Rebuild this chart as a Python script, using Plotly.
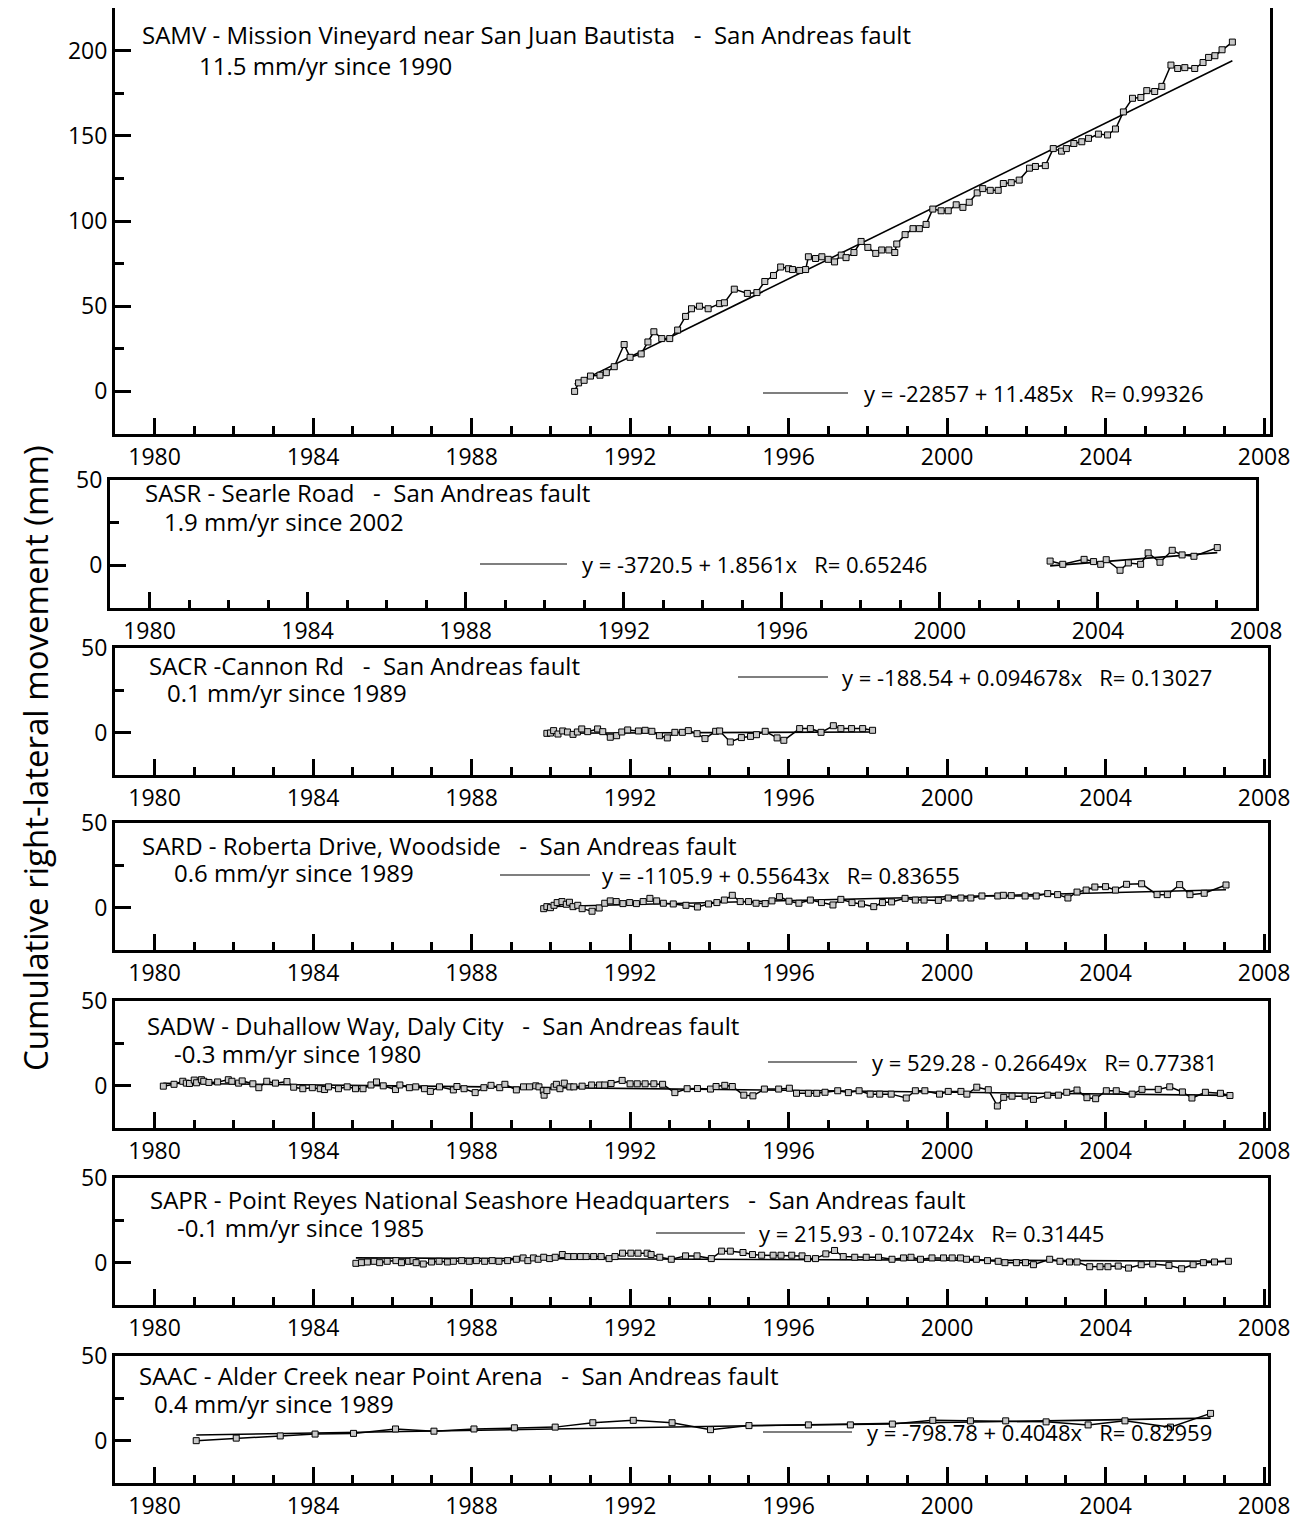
import numpy as np
import plotly.graph_objects as go

W, H = 1306, 1520
PAGE_OFFSET = 8  # the browser draws the figure 8 px in from the page corner

# ---------------- data ----------------
samv_year = [1990.6, 1990.7, 1990.84, 1991.0, 1991.24, 1991.4, 1991.6, 1991.85, 1992.0, 1992.28,
             1992.45, 1992.6, 1992.8, 1993.0, 1993.2, 1993.4, 1993.55, 1993.75, 1993.97, 1994.26,
             1994.38, 1994.63, 1994.96, 1995.2, 1995.4, 1995.62, 1995.8, 1996.0, 1996.1, 1996.28,
             1996.43, 1996.5, 1996.68, 1996.84, 1997.0, 1997.16, 1997.33, 1997.45, 1997.65, 1997.83,
             1998.0, 1998.2, 1998.35, 1998.53, 1998.68, 1998.73, 1998.94, 1999.14, 1999.3, 1999.47,
             1999.64, 1999.85, 2000.03, 2000.23, 2000.4, 2000.56, 2000.76, 2000.9, 2001.09, 2001.29,
             2001.42, 2001.62, 2001.82, 2002.08, 2002.23, 2002.48, 2002.68, 2002.89, 2003.01, 2003.2,
             2003.4, 2003.57, 2003.82, 2004.05, 2004.25, 2004.45, 2004.68, 2004.89, 2005.04, 2005.24,
             2005.42, 2005.65, 2005.82, 2006.0, 2006.25, 2006.46, 2006.6, 2006.76, 2006.94, 2007.2]
samv_mm = [0, 5, 6.5, 9, 9.5, 11, 14.5, 27.5, 20, 22,
           29, 35, 31, 31, 36, 44, 48.5, 50, 48.5, 51.5,
           52, 60, 57.5, 58, 64.5, 68, 73, 72, 71.5, 71,
           71.5, 79, 78, 79, 77.5, 76, 80, 78.5, 81.5, 88,
           84.5, 81, 83, 83, 81.5, 86.5, 92, 95.5, 95.5, 98,
           107, 106, 106, 109.5, 108, 111, 116.5, 119, 118, 118,
           122, 122.5, 124, 131, 132, 132.5, 142.5, 141, 142.5, 145.5,
           146.5, 148.5, 151, 150.5, 154, 164, 172, 172.5, 176.5, 176,
           179, 191.5, 189.5, 190, 189.5, 193, 196, 197, 200.5, 205]

sasr_year = [2002.79, 2003.11, 2003.65, 2003.89, 2004.07, 2004.21, 2004.56, 2004.77, 2005.08,
             2005.27, 2005.57, 2005.88, 2006.13, 2006.43, 2007.02]
sasr_mm = [2.5, 0.6, 3.5, 2.2, 0.6, 3.3, -2.9, 1.4, 0.6, 7.3, 1.8, 8.8, 6.1, 5.3, 10.4]

sacr_year = [1989.9, 1989.99, 1990.07, 1990.18, 1990.3, 1990.42, 1990.56, 1990.67, 1990.78, 1990.93,
             1991.18, 1991.31, 1991.5, 1991.66, 1991.79, 1991.94, 1992.21, 1992.38, 1992.55, 1992.74,
             1992.94, 1993.13, 1993.32, 1993.47, 1993.69, 1993.89, 1994.16, 1994.26, 1994.53, 1994.81,
             1995.04, 1995.19, 1995.41, 1995.71, 1995.88, 1996.28, 1996.55, 1996.82, 1997.13, 1997.32,
             1997.59, 1997.87, 1998.12]
sacr_mm = [-0.4, -0.2, 1.2, -0.8, 1, 0.4, -1, 0.4, 2.2, 0.6,
           2.2, 0.6, -2.7, -1.8, 0.4, 1.6, 1, 1.4, 0.8, -1.8,
           -3.1, 0.2, 0.2, 1.2, -0.6, -3.5, 0.8, 1, -5.5, -2.9,
           -2.2, -1.2, 0.8, -3.1, -4.5, 2.4, 2.4, 0.2, 4.1, 2.4,
           2.4, 2.4, 1.4]

sard_year = [1989.82, 1989.90, 1989.99, 1990.08, 1990.16, 1990.28, 1990.39, 1990.47, 1990.56, 1990.68,
             1990.79, 1991.04, 1991.22, 1991.36, 1991.50, 1991.65, 1991.82, 1991.99, 1992.16, 1992.33,
             1992.50, 1992.67, 1992.84, 1993.09, 1993.41, 1993.70, 1993.98, 1994.19, 1994.38, 1994.58,
             1994.78, 1994.99, 1995.18, 1995.41, 1995.58, 1995.77, 1996.01, 1996.26, 1996.55, 1996.83,
             1997.12, 1997.32, 1997.60, 1997.84, 1998.15, 1998.37, 1998.60, 1998.94, 1999.20, 1999.42,
             1999.78, 2000.03, 2000.35, 2000.60, 2000.88, 2001.28, 2001.42, 2001.62, 2001.97, 2002.25,
             2002.54, 2002.79, 2003.05, 2003.28, 2003.51, 2003.73, 2004.00, 2004.25, 2004.53, 2004.91,
             2005.30, 2005.56, 2005.87, 2006.13, 2006.49, 2007.04]
sard_mm = [-0.6, 0.6, 0.0, 1.4, 3.0, 3.6, 2.0, 3.2, 0.6, 1.4,
           -0.6, -2.1, -0.2, 2.6, 4.0, 3.6, 2.4, 3.0, 2.4, 3.6,
           5.5, 4.0, 2.6, 2.2, 1.4, 0.4, 2.2, 3.0, 4.5, 7.3,
           3.6, 3.6, 2.6, 2.4, 4.0, 6.5, 3.8, 2.6, 4.5, 3.0,
           1.6, 4.9, 3.0, 2.2, 0.6, 3.0, 3.4, 5.5, 4.5, 4.5,
           4.3, 5.7, 5.7, 5.7, 6.9, 6.9, 7.3, 7.1, 6.9, 6.9,
           8.3, 7.7, 5.7, 9.2, 10.4, 12.2, 12.4, 10.4, 13.8, 14.1,
           7.7, 7.7, 13.6, 7.7, 8.5, 13.4]

sadw_year = [1980.22, 1980.49, 1980.71, 1980.80, 1980.88, 1981.00, 1981.06, 1981.18, 1981.24, 1981.37,
             1981.59, 1981.86, 1981.95, 1982.12, 1982.21, 1982.48, 1982.63, 1982.83, 1983.05, 1983.34,
             1983.51, 1983.74, 1983.98, 1984.18, 1984.29, 1984.39, 1984.64, 1984.86, 1985.07, 1985.26,
             1985.46, 1985.60, 1985.77, 1986.08, 1986.19, 1986.43, 1986.59, 1986.81, 1986.96, 1987.19,
             1987.54, 1987.63, 1987.81, 1988.09, 1988.31, 1988.49, 1988.71, 1988.84, 1989.13, 1989.31,
             1989.46, 1989.62, 1989.70, 1989.81, 1989.83, 1989.90, 1990.08, 1990.14, 1990.23, 1990.34,
             1990.48, 1990.58, 1990.79, 1991.03, 1991.23, 1991.36, 1991.52, 1991.80, 1992.00, 1992.18,
             1992.38, 1992.60, 1992.82, 1993.13, 1993.44, 1993.70, 1994.03, 1994.17, 1994.39, 1994.58,
             1994.87, 1995.10, 1995.39, 1995.75, 1996.02, 1996.20, 1996.50, 1996.71, 1996.92, 1997.24,
             1997.51, 1997.78, 1998.06, 1998.30, 1998.59, 1998.97, 1999.20, 1999.44, 1999.81, 2000.03,
             2000.35, 2000.50, 2000.75, 2001.04, 2001.27, 2001.43, 2001.64, 2001.97, 2002.18, 2002.54,
             2002.81, 2003.02, 2003.28, 2003.53, 2003.75, 2004.02, 2004.27, 2004.67, 2004.92, 2005.33,
             2005.62, 2005.94, 2006.18, 2006.52, 2006.90, 2007.14]
sadw_mm = [-0.3, 0.8, 2.6, 1.5, 1.3, 3.3, 1.7, 3.5, 2.6, 1.9,
           2.2, 3.5, 2.6, 1.5, 2.8, 1.1, -1.2, 2.6, 1.5, 2.4,
           -0.9, -1.8, -1.2, -1.8, -2.3, -0.7, -1.8, -0.7, -1.8, -1.8,
           0.4, 2.2, -0.1, -2.3, 0.4, -1.2, -0.7, -1.8, -3.4, -0.7,
           -2.5, -0.5, -1.8, -4.1, -1.2, 0.2, -1.2, 0.8, -2.5, -0.7,
           -0.7, -0.1, -0.7, -2.9, -5.6, -2.9, -0.7, 0.8, -1.8, 1.5,
           -0.7, -0.7, -0.3, 0.4, 0.4, 0.4, 1.3, 3.1, 1.1, 1.1,
           1.1, 1.1, 0.8, -4.1, -1.8, -1.7, -2.0, -0.5, 0.2, -0.5,
           -5.6, -6.0, -2.0, -2.0, -1.5, -4.5, -4.5, -4.5, -3.9, -3.0,
           -4.1, -3.0, -5.0, -5.0, -5.0, -7.3, -3.0, -3.0, -5.0, -3.4,
           -3.4, -5.0, -0.9, -2.4, -12.0, -6.9, -6.2, -6.2, -8.1, -5.6,
           -5.6, -3.9, -2.6, -7.1, -7.7, -3.0, -3.0, -5.0, -2.2, -2.2,
           -0.7, -3.7, -7.3, -3.9, -4.5, -5.8]

sapr_year = [1985.08, 1985.22, 1985.37, 1985.54, 1985.68, 1985.87, 1986.09, 1986.23, 1986.41, 1986.52,
             1986.60, 1986.78, 1986.99, 1987.18, 1987.39, 1987.54, 1987.75, 1987.94, 1988.12, 1988.33,
             1988.52, 1988.69, 1988.91, 1989.13, 1989.30, 1989.42, 1989.56, 1989.68, 1989.82, 1989.97,
             1990.11, 1990.29, 1990.43, 1990.58, 1990.75, 1990.89, 1991.08, 1991.27, 1991.47, 1991.62,
             1991.81, 1992.02, 1992.20, 1992.43, 1992.53, 1992.75, 1993.04, 1993.40, 1993.69, 1994.05,
             1994.31, 1994.53, 1994.85, 1995.09, 1995.32, 1995.61, 1995.81, 1996.08, 1996.34, 1996.48,
             1996.68, 1996.94, 1997.16, 1997.38, 1997.67, 1997.96, 1998.27, 1998.61, 1998.90, 1999.09,
             1999.33, 1999.62, 1999.91, 2000.13, 2000.34, 2000.49, 2000.74, 2001.02, 2001.29, 2001.46,
             2001.75, 2001.98, 2002.18, 2002.59, 2002.85, 2003.09, 2003.28, 2003.60, 2003.86, 2004.06,
             2004.32, 2004.58, 2004.90, 2005.19, 2005.60, 2005.92, 2006.21, 2006.47, 2006.75, 2007.10]
sapr_mm = [-0.4, 0.0, 0.4, 0.8, 0.0, 0.8, 1.2, 0.0, 0.8, 1.2,
           0.0, -0.8, 0.4, 0.8, 0.4, 0.8, 1.2, 0.8, 1.2, 0.8,
           1.2, 0.8, 1.2, 2.0, 2.8, 1.2, 2.8, 2.0, 3.2, 2.4,
           3.2, 4.8, 3.6, 3.6, 3.6, 3.6, 3.6, 3.6, 2.4, 3.6,
           5.6, 5.6, 5.6, 5.6, 4.8, 3.2, 2.0, 4.0, 4.0, 2.4,
           6.8, 6.8, 6.0, 4.8, 4.4, 4.4, 4.4, 4.4, 4.0, 2.4,
           2.4, 5.2, 7.2, 3.6, 3.2, 3.2, 3.2, 2.0, 2.8, 3.2,
           2.0, 2.8, 2.8, 2.8, 2.8, 2.0, 2.0, 1.2, 0.8, 0.0,
           0.0, 0.0, -1.2, 2.0, 0.8, 0.4, 0.4, -2.4, -2.4, -2.4,
           -2.0, -3.2, -1.2, -0.8, -1.6, -3.6, -1.2, 0.0, 0.4, 0.8]

saac_year = [1981.05, 1982.06, 1983.17, 1984.05, 1985.02, 1986.08, 1987.05, 1988.06, 1989.08, 1990.11,
             1991.06, 1992.08, 1993.06, 1994.03, 1995.00, 1996.50, 1997.56, 1998.62, 1999.64, 2000.59,
             2001.48, 2002.50, 2003.56, 2004.49, 2005.64, 2006.65]
saac_mm = [0.0, 1.5, 2.8, 3.9, 4.3, 6.9, 5.6, 6.9, 7.6, 8.0,
           10.6, 12.0, 10.6, 6.5, 8.9, 9.3, 9.3, 9.8, 12.0, 11.7,
           11.7, 11.1, 9.3, 11.7, 8.0, 16.1]

station_titles = [
    "SAMV - Mission Vineyard near San Juan Bautista   -  San Andreas fault",
    "SASR - Searle Road   -  San Andreas fault",
    "SACR -Cannon Rd   -  San Andreas fault",
    "SARD - Roberta Drive, Woodside   -  San Andreas fault",
    "SADW - Duhallow Way, Daly City   -  San Andreas fault",
    "SAPR - Point Reyes National Seashore Headquarters   -  San Andreas fault",
    "SAAC - Alder Creek near Point Arena   -  San Andreas fault",
]
rate_labels = [
    "11.5 mm/yr since 1990",
    "1.9 mm/yr since 2002",
    "0.1 mm/yr since 1989",
    "0.6 mm/yr since 1989",
    "-0.3 mm/yr since 1980",
    "-0.1 mm/yr since 1985",
    "0.4 mm/yr since 1989",
]
fit_labels = [
    "y = -22857 + 11.485x   R= 0.99326",
    "y = -3720.5 + 1.8561x   R= 0.65246",
    "y = -188.54 + 0.094678x   R= 0.13027",
    "y = -1105.9 + 0.55643x   R= 0.83655",
    "y = 529.28 - 0.26649x   R= 0.77381",
    "y = 215.93 - 0.10724x   R= 0.31445",
    "y = -798.78 + 0.4048x   R= 0.82959",
]
y_title = "Cumulative right-lateral movement (mm)"

series = [(samv_year, samv_mm), (sasr_year, sasr_mm), (sacr_year, sacr_mm), (sard_year, sard_mm),
          (sadw_year, sadw_mm), (sapr_year, sapr_mm), (saac_year, saac_mm)]

# ---------------- layout (screen pixels) ----------------
panel_y = [(8, 434), (480, 608), (648, 775), (823, 950), (1001, 1128), (1178, 1305), (1356, 1483)]
panel_x = [(115, 1270), (110, 1256), (115, 1268), (115, 1268), (115, 1268), (115, 1268), (115, 1268)]
x_ranges = [(1979.0, 2008.15), (1979.0, 2008.0)] + [(1979.0, 2008.1)] * 5
y_ranges = [(-25, 225)] + [(-25, 50)] * 6
y_ticks = [[0, 50, 100, 150, 200]] + [[0, 50]] * 6

title_pos = [(140, 35), (143, 492), (147, 666), (140, 845), (145, 1025), (148, 1199), (137, 1375)]
rate_pos = [(197, 66), (162, 521), (165, 693), (172, 872), (172, 1053), (175, 1227), (152, 1403)]
fit_pos = [(763, 848, 862, 393), (480, 567, 580, 564), (738, 828, 840, 677), (500, 590, 600, 875),
           (768, 857, 870, 1062), (656, 745, 757, 1233), (763, 852, 865, 1432)]


def px(x):
    return (x - PAGE_OFFSET) / W


def py(y):
    return 1 - (y - PAGE_OFFSET) / H


FONT = "Open Sans, Noto Sans, sans-serif"
fig = go.Figure()
annotations = []
shapes = []

for i, (xs, ys) in enumerate(series):
    n = i + 1
    xa = "x" if n == 1 else f"x{n}"
    ya = "y" if n == 1 else f"y{n}"
    xarr = np.array(xs, dtype=float)
    yarr = np.array(ys, dtype=float)
    # regression line computed from the data
    slope, icpt = np.polyfit(xarr, yarr, 1)
    fx = np.array([xarr.min(), xarr.max()])
    fig.add_trace(go.Scatter(x=fx, y=icpt + slope * fx, mode="lines",
                             line=dict(color="black", width=1.6),
                             xaxis=xa, yaxis=ya, showlegend=False, hoverinfo="skip"))
    fig.add_trace(go.Scatter(x=xarr, y=yarr, mode="lines+markers",
                             line=dict(color="black", width=1.5),
                             marker=dict(symbol="square", size=6, color="#c8c8c8",
                                         line=dict(color="black", width=1)),
                             xaxis=xa, yaxis=ya, showlegend=False))

    x0, x1 = panel_x[i]
    y0, y1 = panel_y[i]
    xkey = "xaxis" if n == 1 else f"xaxis{n}"
    ykey = "yaxis" if n == 1 else f"yaxis{n}"
    fig.layout[xkey] = dict(
        domain=[px(x0), px(x1)], range=list(x_ranges[i]), anchor=ya,
        showline=True, linecolor="black", linewidth=3, mirror=True,
        ticks="inside", ticklen=16, tickwidth=2.5, tickcolor="black",
        tick0=1980, dtick=4, showgrid=False, zeroline=False, automargin=False,
        tickfont=dict(family=FONT, size=23, color="black"),
        minor=dict(ticks="inside", ticklen=8, tickwidth=2.5, tickcolor="black",
                   tick0=1980, dtick=1, showgrid=False),
    )
    fig.layout[ykey] = dict(
        domain=[py(y1), py(y0)], range=list(y_ranges[i]), anchor=xa,
        showline=True, linecolor="black", linewidth=3, mirror=True,
        ticks="inside", ticklen=16, tickwidth=2.5, tickcolor="black",
        tickvals=y_ticks[i], showgrid=False, zeroline=False, automargin=False,
        tickfont=dict(family=FONT, size=23, color="black"),
        minor=dict(ticks="inside", ticklen=9, tickwidth=2.5, tickcolor="black",
                   tick0=0, dtick=25, showgrid=False),
    )

    tx, ty = title_pos[i]
    annotations.append(dict(x=px(tx), y=py(ty), xref="paper", yref="paper",
                            text=station_titles[i].replace(" ", "\u00a0"), showarrow=False,
                            xanchor="left", yanchor="middle",
                            font=dict(family=FONT, size=24, color="black")))
    rx, ry = rate_pos[i]
    annotations.append(dict(x=px(rx), y=py(ry), xref="paper", yref="paper",
                            text=rate_labels[i].replace(" ", "\u00a0"), showarrow=False,
                            xanchor="left", yanchor="middle",
                            font=dict(family=FONT, size=24, color="black")))
    sx0, sx1, fxt, fy = fit_pos[i]
    shapes.append(dict(type="line", xref="paper", yref="paper",
                       x0=px(sx0), x1=px(sx1), y0=py(fy), y1=py(fy),
                       line=dict(color="black", width=1.2)))
    annotations.append(dict(x=px(fxt), y=py(fy), xref="paper", yref="paper",
                            text=fit_labels[i].replace(" ", "\u00a0"), showarrow=False,
                            xanchor="left", yanchor="middle",
                            font=dict(family=FONT, size=22, color="black")))

annotations.append(dict(x=px(35), y=py(758), xref="paper", yref="paper", text=y_title,
                        showarrow=False, textangle=-90, xanchor="center", yanchor="middle",
                        font=dict(family=FONT, size=33, color="black")))

fig.update_layout(width=W, height=H,
                  margin=dict(l=0, r=0, t=0, b=0, pad=0, autoexpand=False),
                  paper_bgcolor="white", plot_bgcolor="white", showlegend=False,
                  annotations=annotations, shapes=shapes,
                  font=dict(family=FONT, color="black"))

fig.write_html("out.html")
